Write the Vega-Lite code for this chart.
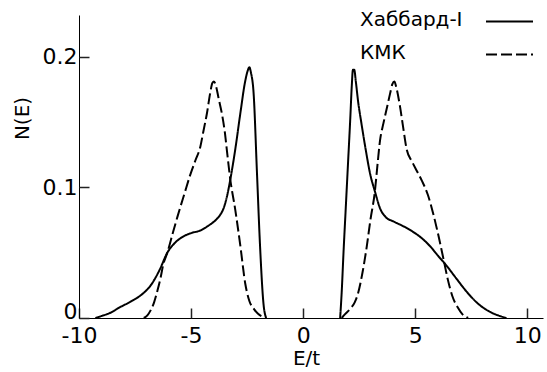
{
  "$schema": "https://vega.github.io/schema/vega-lite/v6.json",
  "width": 464,
  "height": 303,
  "autosize": "none",
  "padding": {"left": 79, "top": 15, "right": 4, "bottom": 54},
  "background": "white",
  "config": {
    "view": {"stroke": null},
    "font": "DejaVu Sans",
    "axis": {
      "grid": false,
      "domainColor": "black",
      "domainWidth": 1,
      "labelColor": "black",
      "labelFont": "DejaVu Sans",
      "labelFontSize": 22,
      "titleColor": "black",
      "titleFont": "DejaVu Sans",
      "titleFontSize": 20,
      "titleFontWeight": "normal"
    }
  },
  "datasets": {
    "dos": [
      {"series": "Хаббард-I", "band": "L", "E": -9.27, "N": 0},
      {"series": "Хаббард-I", "band": "L", "E": -9.0, "N": 0.0015},
      {"series": "Хаббард-I", "band": "L", "E": -8.6, "N": 0.004},
      {"series": "Хаббард-I", "band": "L", "E": -8.2, "N": 0.008},
      {"series": "Хаббард-I", "band": "L", "E": -7.7, "N": 0.0125},
      {"series": "Хаббард-I", "band": "L", "E": -7.2, "N": 0.018},
      {"series": "Хаббард-I", "band": "L", "E": -6.8, "N": 0.025},
      {"series": "Хаббард-I", "band": "L", "E": -6.4, "N": 0.037},
      {"series": "Хаббард-I", "band": "L", "E": -6.06, "N": 0.05},
      {"series": "Хаббард-I", "band": "L", "E": -5.75, "N": 0.057},
      {"series": "Хаббард-I", "band": "L", "E": -5.48, "N": 0.061},
      {"series": "Хаббард-I", "band": "L", "E": -5.0, "N": 0.065},
      {"series": "Хаббард-I", "band": "L", "E": -4.59, "N": 0.067},
      {"series": "Хаббард-I", "band": "L", "E": -4.2, "N": 0.071},
      {"series": "Хаббард-I", "band": "L", "E": -3.9, "N": 0.075},
      {"series": "Хаббард-I", "band": "L", "E": -3.7, "N": 0.079},
      {"series": "Хаббард-I", "band": "L", "E": -3.55, "N": 0.084},
      {"series": "Хаббард-I", "band": "L", "E": -3.4, "N": 0.093},
      {"series": "Хаббард-I", "band": "L", "E": -3.25, "N": 0.106},
      {"series": "Хаббард-I", "band": "L", "E": -3.03, "N": 0.129},
      {"series": "Хаббард-I", "band": "L", "E": -2.8, "N": 0.157},
      {"series": "Хаббард-I", "band": "L", "E": -2.6, "N": 0.18},
      {"series": "Хаббард-I", "band": "L", "E": -2.48, "N": 0.189},
      {"series": "Хаббард-I", "band": "L", "E": -2.4, "N": 0.192},
      {"series": "Хаббард-I", "band": "L", "E": -2.33, "N": 0.188},
      {"series": "Хаббард-I", "band": "L", "E": -2.21, "N": 0.172},
      {"series": "Хаббард-I", "band": "L", "E": -2.06, "N": 0.111},
      {"series": "Хаббард-I", "band": "L", "E": -1.92, "N": 0.054},
      {"series": "Хаббард-I", "band": "L", "E": -1.77, "N": 0.011},
      {"series": "Хаббард-I", "band": "L", "E": -1.65, "N": 0},
      {"series": "Хаббард-I", "band": "R", "E": 1.65, "N": 0},
      {"series": "Хаббард-I", "band": "R", "E": 1.72, "N": 0.02},
      {"series": "Хаббард-I", "band": "R", "E": 1.8, "N": 0.05},
      {"series": "Хаббард-I", "band": "R", "E": 1.9, "N": 0.084},
      {"series": "Хаббард-I", "band": "R", "E": 2.0, "N": 0.118},
      {"series": "Хаббард-I", "band": "R", "E": 2.1, "N": 0.152},
      {"series": "Хаббард-I", "band": "R", "E": 2.17, "N": 0.178},
      {"series": "Хаббард-I", "band": "R", "E": 2.22, "N": 0.19},
      {"series": "Хаббард-I", "band": "R", "E": 2.28, "N": 0.19},
      {"series": "Хаббард-I", "band": "R", "E": 2.35, "N": 0.181},
      {"series": "Хаббард-I", "band": "R", "E": 2.45, "N": 0.166},
      {"series": "Хаббард-I", "band": "R", "E": 2.6, "N": 0.149},
      {"series": "Хаббард-I", "band": "R", "E": 2.8, "N": 0.128},
      {"series": "Хаббард-I", "band": "R", "E": 2.98, "N": 0.111},
      {"series": "Хаббард-I", "band": "R", "E": 3.2, "N": 0.097},
      {"series": "Хаббард-I", "band": "R", "E": 3.43, "N": 0.084},
      {"series": "Хаббард-I", "band": "R", "E": 3.7, "N": 0.077},
      {"series": "Хаббард-I", "band": "R", "E": 4.02, "N": 0.074},
      {"series": "Хаббард-I", "band": "R", "E": 4.5, "N": 0.07},
      {"series": "Хаббард-I", "band": "R", "E": 4.9, "N": 0.066},
      {"series": "Хаббард-I", "band": "R", "E": 5.3, "N": 0.061},
      {"series": "Хаббард-I", "band": "R", "E": 5.66, "N": 0.055},
      {"series": "Хаббард-I", "band": "R", "E": 6.0, "N": 0.048},
      {"series": "Хаббард-I", "band": "R", "E": 6.4, "N": 0.04},
      {"series": "Хаббард-I", "band": "R", "E": 6.8, "N": 0.031},
      {"series": "Хаббард-I", "band": "R", "E": 7.3, "N": 0.02},
      {"series": "Хаббард-I", "band": "R", "E": 7.8, "N": 0.011},
      {"series": "Хаббард-I", "band": "R", "E": 8.3, "N": 0.005},
      {"series": "Хаббард-I", "band": "R", "E": 8.7, "N": 0.002},
      {"series": "Хаббард-I", "band": "R", "E": 9.07, "N": 0},
      {"series": "КМК", "band": "L", "E": -7.11, "N": 0},
      {"series": "КМК", "band": "L", "E": -6.95, "N": 0.002},
      {"series": "КМК", "band": "L", "E": -6.8, "N": 0.006},
      {"series": "КМК", "band": "L", "E": -6.65, "N": 0.012},
      {"series": "КМК", "band": "L", "E": -6.5, "N": 0.021},
      {"series": "КМК", "band": "L", "E": -6.37, "N": 0.03},
      {"series": "КМК", "band": "L", "E": -6.24, "N": 0.041},
      {"series": "КМК", "band": "L", "E": -6.06, "N": 0.05},
      {"series": "КМК", "band": "L", "E": -5.8, "N": 0.066},
      {"series": "КМК", "band": "L", "E": -5.6, "N": 0.078},
      {"series": "КМК", "band": "L", "E": -5.3, "N": 0.095},
      {"series": "КМК", "band": "L", "E": -5.03, "N": 0.11},
      {"series": "КМК", "band": "L", "E": -4.8, "N": 0.121},
      {"series": "КМК", "band": "L", "E": -4.59, "N": 0.131},
      {"series": "КМК", "band": "L", "E": -4.45, "N": 0.143},
      {"series": "КМК", "band": "L", "E": -4.29, "N": 0.157},
      {"series": "КМК", "band": "L", "E": -4.15, "N": 0.172},
      {"series": "КМК", "band": "L", "E": -4.05, "N": 0.18},
      {"series": "КМК", "band": "L", "E": -3.98, "N": 0.181},
      {"series": "КМК", "band": "L", "E": -3.88, "N": 0.177},
      {"series": "КМК", "band": "L", "E": -3.77, "N": 0.168},
      {"series": "КМК", "band": "L", "E": -3.62, "N": 0.156},
      {"series": "КМК", "band": "L", "E": -3.5, "N": 0.143},
      {"series": "КМК", "band": "L", "E": -3.4, "N": 0.128},
      {"series": "КМК", "band": "L", "E": -3.25, "N": 0.106},
      {"series": "КМК", "band": "L", "E": -3.03, "N": 0.083},
      {"series": "КМК", "band": "L", "E": -2.8, "N": 0.055},
      {"series": "КМК", "band": "L", "E": -2.58, "N": 0.026},
      {"series": "КМК", "band": "L", "E": -2.4, "N": 0.013},
      {"series": "КМК", "band": "L", "E": -2.2, "N": 0.007},
      {"series": "КМК", "band": "L", "E": -2.0, "N": 0.003},
      {"series": "КМК", "band": "L", "E": -1.65, "N": 0},
      {"series": "КМК", "band": "R", "E": 1.72, "N": 0},
      {"series": "КМК", "band": "R", "E": 1.87, "N": 0.003},
      {"series": "КМК", "band": "R", "E": 2.1, "N": 0.007},
      {"series": "КМК", "band": "R", "E": 2.3, "N": 0.012},
      {"series": "КМК", "band": "R", "E": 2.45, "N": 0.019},
      {"series": "КМК", "band": "R", "E": 2.65, "N": 0.035},
      {"series": "КМК", "band": "R", "E": 2.84, "N": 0.055},
      {"series": "КМК", "band": "R", "E": 3.0, "N": 0.075},
      {"series": "КМК", "band": "R", "E": 3.2, "N": 0.097},
      {"series": "КМК", "band": "R", "E": 3.32, "N": 0.118},
      {"series": "КМК", "band": "R", "E": 3.43, "N": 0.136},
      {"series": "КМК", "band": "R", "E": 3.58, "N": 0.149},
      {"series": "КМК", "band": "R", "E": 3.75, "N": 0.162},
      {"series": "КМК", "band": "R", "E": 3.88, "N": 0.172},
      {"series": "КМК", "band": "R", "E": 3.98, "N": 0.179},
      {"series": "КМК", "band": "R", "E": 4.07, "N": 0.181},
      {"series": "КМК", "band": "R", "E": 4.15, "N": 0.177},
      {"series": "КМК", "band": "R", "E": 4.32, "N": 0.162},
      {"series": "КМК", "band": "R", "E": 4.47, "N": 0.145},
      {"series": "КМК", "band": "R", "E": 4.62, "N": 0.129},
      {"series": "КМК", "band": "R", "E": 4.85, "N": 0.12},
      {"series": "КМК", "band": "R", "E": 5.06, "N": 0.113},
      {"series": "КМК", "band": "R", "E": 5.3, "N": 0.105},
      {"series": "КМК", "band": "R", "E": 5.57, "N": 0.094},
      {"series": "КМК", "band": "R", "E": 5.8, "N": 0.08},
      {"series": "КМК", "band": "R", "E": 6.05, "N": 0.062},
      {"series": "КМК", "band": "R", "E": 6.25, "N": 0.046},
      {"series": "КМК", "band": "R", "E": 6.46, "N": 0.029},
      {"series": "КМК", "band": "R", "E": 6.65, "N": 0.017},
      {"series": "КМК", "band": "R", "E": 6.9, "N": 0.008},
      {"series": "КМК", "band": "R", "E": 7.1, "N": 0.003},
      {"series": "КМК", "band": "R", "E": 7.36, "N": 0}
    ]
  },
  "data": {"name": "dos"},
  "resolve": {"axis": {"x": "independent", "y": "independent"}},
  "layer": [
    {
      "mark": {"type": "line", "color": "black", "strokeWidth": 2, "interpolate": "monotone"},
      "encoding": {
        "x": {
          "field": "E",
          "type": "quantitative",
          "scale": {"domain": [-10, 10.7], "nice": false, "zero": false},
          "axis": {
            "orient": "bottom",
            "values": [-10, -5, 0, 5, 10],
            "labelExpr": "toString(datum.value)",
            "ticks": false,
            "labelPadding": 7,
            "labelFlush": false,
            "title": "E/t",
            "titleX": 227,
            "titleY": 46,
            "titleBaseline": "alphabetic",
            "titleAlign": "center",
            "titleAnchor": "middle"
          }
        },
        "y": {
          "field": "N",
          "type": "quantitative",
          "scale": {"domain": [0, 0.232], "nice": false},
          "axis": {
            "orient": "left",
            "values": [0, 0.1, 0.2],
            "format": "~g",
            "ticks": false,
            "labelPadding": 2,
            "labelFlush": true,
            "labelFlushOffset": 5,
            "title": "N(E)",
            "titleX": -57,
            "titleY": 103,
            "titleBaseline": "middle",
            "titleAlign": "center",
            "titleAngle": -90,
            "titleAnchor": "middle"
          }
        },
        "detail": {"field": "band"},
        "strokeDash": {
          "field": "series",
          "type": "nominal",
          "scale": {"domain": ["Хаббард-I", "КМК"], "range": [[1, 0], [11, 4]]},
          "legend": {
            "title": null,
            "orient": "none",
            "legendX": 406,
            "legendY": -18,
            "padding": 0,
            "symbolType": "stroke",
            "symbolSize": 2209,
            "symbolStrokeWidth": 2,
            "symbolStrokeColor": "black",
            "labelFont": "DejaVu Sans",
            "labelFontSize": 20,
            "labelColor": "black",
            "labelAlign": "left",
            "labelBaseline": "middle",
            "labelOffset": -174,
            "rowPadding": -5,
            "labelLimit": 300,
            "encode": {
              "labels": {"update": {"dy": {"value": -2}}},
              "symbols": {
                "update": {
                  "strokeDash": {"signal": "datum.label === 'КМК' ? [12, 6] : [1, 0]"}
                }
              }
            }
          }
        }
      }
    },
    {
      "mark": {"type": "line", "opacity": 0},
      "encoding": {
        "x": {
          "field": "E",
          "type": "quantitative",
          "axis": {
            "orient": "bottom",
            "offset": -10,
            "values": [-10, -5, 0, 5, 10],
            "domain": true,
            "domainOpacity": 0,
            "labels": true,
            "labelOpacity": 0,
            "ticks": true,
            "tickSize": 10,
            "tickColor": "#222222",
            "tickWidth": 1.5,
            "title": null
          }
        },
        "y": {
          "field": "N",
          "type": "quantitative",
          "axis": {
            "orient": "left",
            "offset": -10,
            "values": [0, 0.1, 0.2],
            "domain": true,
            "domainOpacity": 0,
            "labels": true,
            "labelOpacity": 0,
            "ticks": true,
            "tickSize": 10,
            "tickColor": "#222222",
            "tickWidth": 1.5,
            "title": null
          }
        },
        "detail": {"field": "band"}
      }
    }
  ]
}
